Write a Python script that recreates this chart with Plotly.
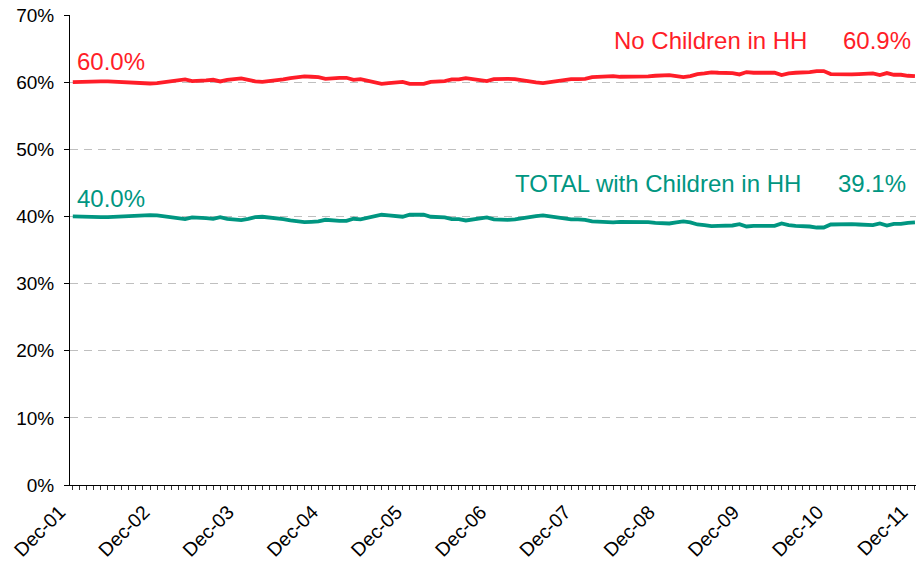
import pandas as pd
import plotly.graph_objects as go

# Monthly share of households, Dec-01 to Dec-11
months = pd.date_range("2001-12-01", periods=121, freq="MS").strftime("%b-%y").tolist()

no_children = [
    60.0, 60.05, 60.1, 60.1, 60.1, 60.1, 60.05, 60.0, 59.95, 59.9, 59.8, 59.8,
    59.85, 60.0, 60.1, 60.2, 60.4, 60.15, 60.15, 60.25, 60.35, 60.1, 60.35, 60.45,
    60.55, 60.35, 60.1, 60.05, 60.15, 60.3, 60.4, 60.6, 60.7, 60.85, 60.8, 60.75,
    60.5, 60.6, 60.65, 60.65, 60.35, 60.45, 60.2, 60.0, 59.75, 59.85, 59.9, 60.05,
    59.75, 59.7, 59.75, 60.05, 60.15, 60.15, 60.4, 60.4, 60.6, 60.45, 60.2, 60.15,
    60.45, 60.5, 60.5, 60.45, 60.25, 60.15, 59.95, 59.85, 60.0, 60.2, 60.4, 60.45,
    60.45, 60.5, 60.75, 60.8, 60.9, 60.9, 60.8, 60.8, 60.8, 60.8, 60.85, 60.95,
    61.05, 61.05, 60.9, 60.75, 60.9, 61.2, 61.3, 61.45, 61.4, 61.35, 61.35, 61.15,
    61.5, 61.4, 61.4, 61.4, 61.4, 61.05, 61.3, 61.4, 61.4, 61.5, 61.65, 61.65,
    61.2, 61.15, 61.1, 61.15, 61.2, 61.3, 61.3, 61.05, 61.35, 61.1, 61.1, 60.95,
    60.9,
]

with_children = [
    40.0, 39.95, 39.9, 39.9, 39.9, 39.9, 39.95, 40.0, 40.05, 40.1, 40.2, 40.2,
    40.15, 40.0, 39.9, 39.8, 39.6, 39.85, 39.85, 39.75, 39.65, 39.9, 39.65, 39.55,
    39.45, 39.65, 39.9, 39.95, 39.85, 39.7, 39.6, 39.4, 39.3, 39.15, 39.2, 39.25,
    39.5, 39.4, 39.35, 39.35, 39.65, 39.55, 39.8, 40.0, 40.25, 40.15, 40.1, 39.95,
    40.25, 40.3, 40.25, 39.95, 39.85, 39.85, 39.6, 39.6, 39.4, 39.55, 39.8, 39.85,
    39.55, 39.5, 39.5, 39.55, 39.75, 39.85, 40.05, 40.15, 40.0, 39.8, 39.6, 39.55,
    39.55, 39.5, 39.25, 39.2, 39.1, 39.1, 39.2, 39.2, 39.2, 39.2, 39.15, 39.05,
    38.95, 38.95, 39.1, 39.25, 39.1, 38.8, 38.7, 38.55, 38.6, 38.65, 38.65, 38.85,
    38.5, 38.6, 38.6, 38.6, 38.6, 38.95, 38.7, 38.6, 38.6, 38.5, 38.35, 38.35,
    38.8, 38.85, 38.9, 38.85, 38.8, 38.7, 38.7, 38.95, 38.65, 38.9, 38.9, 39.05,
    39.1,
]

series_names = ["No Children in HH", "TOTAL with Children in HH"]
colors = ["#FF1D28", "#009681"]

y_ticks = [0, 10, 20, 30, 40, 50, 60, 70]
x_tick_text = [m if m.startswith("Dec") else "" for m in months]

FONT = "Liberation Sans, Arial, sans-serif"

fig = go.Figure()
for name, values, color in zip(series_names, [no_children, with_children], colors):
    fig.add_trace(go.Scatter(
        x=months, y=values, name=name, mode="lines",
        line=dict(color=color, width=3.8, shape="linear"),
        hoverinfo="x+y",
    ))

# Start values, series names and end values written next to each line
label_specs = [
    (no_children, colors[0], series_names[0], 21, 36, -106, -2),
    (with_children, colors[1], series_names[1], 18, 39, -112, -7),
]
for values, color, name, start_shift, end_shift, name_x, value_x in label_specs:
    font = dict(family=FONT, size=24, color=color)
    fig.add_annotation(x=0, y=values[0], xref="x", yref="y", text=f"{values[0]:.1f}%",
                       showarrow=False, xanchor="left", yanchor="middle",
                       xshift=2, yshift=start_shift, font=font)
    fig.add_annotation(x=len(values) - 1, y=values[-1], xref="x", yref="y", text=name,
                       showarrow=False, xanchor="right", yanchor="middle",
                       xshift=name_x, yshift=end_shift, font=font)
    fig.add_annotation(x=len(values) - 1, y=values[-1], xref="x", yref="y",
                       text=f"{values[-1]:.1f}%",
                       showarrow=False, xanchor="right", yanchor="middle",
                       xshift=value_x, yshift=end_shift, font=font)

fig.update_layout(
    width=920, height=562,
    margin=dict(l=70, r=4, t=15, b=77),
    paper_bgcolor="white", plot_bgcolor="white",
    showlegend=False,
    font=dict(family=FONT, size=18, color="black"),
    xaxis=dict(
        type="category", automargin=False,
        range=[-0.4, 120.15],
        tickmode="array", tickvals=months, ticktext=x_tick_text,
        tickangle=-45, tickfont=dict(size=19.5, color="black"),
        ticklabelshift=-13, ticklabelstandoff=3,
        ticks="outside", ticklen=4, tickcolor="#333333", tickwidth=1,
        showline=True, linecolor="black", linewidth=1,
        showgrid=False, zeroline=False,
    ),
    yaxis=dict(
        automargin=False,
        range=[0, 70],
        tickmode="array", tickvals=y_ticks, ticktext=[f"{v}%" for v in y_ticks],
        tickfont=dict(size=19, color="black"),
        ticklabelstandoff=6,
        ticks="outside", ticklen=5, tickcolor="black", tickwidth=1,
        showline=True, linecolor="black", linewidth=1,
        showgrid=True, gridcolor="#BFBFBF", gridwidth=1, griddash="8px,6px",
        zeroline=False,
    ),
)

fig.write_html("out.html")
